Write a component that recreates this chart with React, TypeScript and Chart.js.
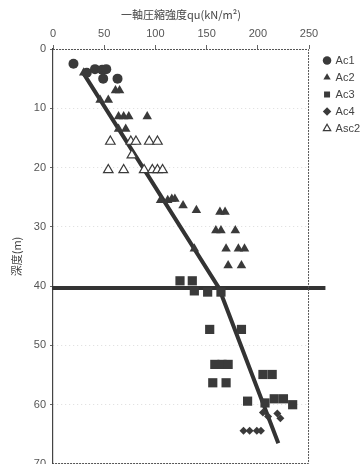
import { useEffect, useRef } from "react";
import { Chart, registerables } from "chart.js";

Chart.register(...registerables);

const seriesNames = ["Ac1", "Ac2", "Ac3", "Ac4", "Asc2"];

const ac1Qu = [20, 33, 41, 48, 52, 49, 63];
const ac1Depth = [2.5, 4, 3.4, 3.5, 3.4, 5, 5];

const ac2Qu = [30, 61, 65, 46, 54, 64, 69, 74, 92, 64, 71, 105, 112, 116, 119, 127, 140, 163, 168, 159, 164, 178, 138, 169, 181, 187, 171, 184];
const ac2Depth = [4, 7, 7, 8.6, 8.6, 11.4, 11.4, 11.4, 11.4, 13.5, 13.5, 25.5, 25.5, 25.3, 25.3, 26.4, 27.2, 27.5, 27.5, 30.6, 30.6, 30.6, 33.7, 33.7, 33.7, 33.7, 36.5, 36.5];

const ac3Qu = [124, 136, 138, 151, 164, 153, 184, 158, 165, 171, 205, 214, 156, 169, 190, 207, 216, 225, 234];
const ac3Depth = [39.1, 39.1, 40.8, 41, 41, 47.3, 47.3, 53.2, 53.2, 53.2, 54.9, 54.9, 56.3, 56.3, 59.4, 59.7, 59, 59, 60];

const ac4Qu = [186, 192, 199, 203, 205, 210, 219, 222];
const ac4Depth = [64.4, 64.4, 64.4, 64.4, 61.3, 62, 61.5, 62.3];

const asc2Qu = [56, 76, 81, 94, 102, 77, 54, 69, 89, 97, 102, 107];
const asc2Depth = [15.6, 15.6, 15.6, 15.6, 15.6, 17.9, 20.4, 20.4, 20.4, 20.4, 20.4, 20.4];

const trendQu = [29, 162, 220];
const trendDepth = [3.9, 40.3, 66.5];

const boundaryQu = [-1, 266];
const boundaryDepth = [40.3, 40.3];

const xTitle = "一軸圧縮強度qu(kN/m²)";
const yTitle = "深度(m)";

const pts = (xs: number[], ys: number[]) => xs.map((x, i) => ({ x, y: ys[i] }));

const INK = "#3a3a3a";

const framePlugin = {
  id: "frame",
  afterDatasetsDraw(chart: any) {
    const { ctx, chartArea } = chart;
    ctx.save();
    ctx.strokeStyle = "#555";
    ctx.lineWidth = 1;
    ctx.setLineDash([2, 1]);
    ctx.beginPath();
    ctx.moveTo(chartArea.left, chartArea.top + 0.5);
    ctx.lineTo(chartArea.right - 0.5, chartArea.top + 0.5);
    ctx.lineTo(chartArea.right - 0.5, chartArea.bottom - 0.5);
    ctx.lineTo(chartArea.left, chartArea.bottom - 0.5);
    ctx.stroke();
    ctx.restore();
  },
};

const legendShift = {
  id: "legendShift",
  afterLayout(chart: any) {
    const l = chart.legend;
    if (l) {
      l.left += 9;
      l.right += 9;
    }
  },
};

export default function App() {
  const ref = useRef<HTMLCanvasElement | null>(null);

  useEffect(() => {
    document.body.style.margin = "0";
    const canvas = ref.current!;
    const font = "'Liberation Sans', Arial, sans-serif";
    const chart = new Chart(canvas, {
      type: "scatter",
      data: {
        datasets: [
          {
            label: seriesNames[0],
            data: pts(ac1Qu, ac1Depth),
            pointStyle: "circle",
            pointRadius: 5,
            backgroundColor: INK,
            borderColor: INK,
            borderWidth: 0,
          },
          {
            label: seriesNames[1],
            data: pts(ac2Qu, ac2Depth),
            pointStyle: "triangle",
            pointRadius: 5.5,
            backgroundColor: INK,
            borderColor: INK,
            borderWidth: 0,
          },
          {
            label: seriesNames[2],
            data: pts(ac3Qu, ac3Depth),
            pointStyle: "rect",
            pointRadius: 6.5,
            backgroundColor: INK,
            borderColor: INK,
            borderWidth: 0,
          },
          {
            label: seriesNames[3],
            data: pts(ac4Qu, ac4Depth),
            pointStyle: "rectRot",
            pointRadius: 4,
            backgroundColor: INK,
            borderColor: INK,
            borderWidth: 0,
          },
          {
            label: seriesNames[4],
            data: pts(asc2Qu, asc2Depth),
            pointStyle: "triangle",
            pointRadius: 5.5,
            backgroundColor: "#ffffff",
            borderColor: INK,
            borderWidth: 1.2,
          },
          {
            type: "line",
            label: "trend",
            data: pts(trendQu, trendDepth),
            borderColor: "#333",
            borderWidth: 4,
            pointRadius: 0,
            showLine: true,
            fill: false,
          } as any,
          {
            type: "line",
            label: "boundary",
            data: pts(boundaryQu, boundaryDepth),
            borderColor: "#333",
            borderWidth: 4,
            pointRadius: 0,
            showLine: true,
            fill: false,
            clip: false,
          } as any,
        ],
      },
      options: {
        animation: false,
        responsive: false,
        maintainAspectRatio: false,
        layout: { padding: { right: 2 }, autoPadding: false },
        plugins: {
          tooltip: { enabled: false },
          legend: {
            position: "right",
            align: "start",
            fullSize: false,
            labels: {
              filter: (item: any) => item.datasetIndex < 5,
              usePointStyle: true,
              boxWidth: 6,
              boxHeight: 6,
              padding: 6,
              color: "#444",
              font: { family: font, size: 11 },
            },
          },
        },
        scales: {
          x: {
            type: "linear",
            position: "top",
            min: 0,
            max: 250,
            afterFit: (s: any) => {
              s.height = 49;
            },
            ticks: {
              stepSize: 50,
              color: "#555",
              padding: 4,
              font: { family: font, size: 11 },
            },
            grid: {
              drawOnChartArea: false,
              tickLength: 4,
              tickColor: "#666",
            },
            border: { display: false },
            title: {
              display: true,
              text: xTitle,
              color: "#444",
              font: { family: "'Noto Sans CJK JP', sans-serif", size: 11 },
              padding: { top: 8, bottom: 0 },
            },
          },
          y: {
            type: "linear",
            reverse: true,
            min: 0,
            max: 70,
            afterFit: (s: any) => {
              s.width = 53;
              s.paddingTop = 0;
              s.paddingBottom = 0;
            },
            ticks: {
              stepSize: 10,
              color: "#555",
              padding: 4,
              font: { family: font, size: 11 },
            },
            grid: {
              color: "rgba(0,0,0,0.14)",
              tickLength: 3,
              tickColor: "#666",
              tickBorderDash: [],
            } as any,
            border: { color: "#444", width: 1.2, dash: [1, 3] as any },
            title: {
              display: true,
              text: yTitle,
              color: "#444",
              font: { family: "'Noto Sans CJK JP', sans-serif", size: 11 },
              padding: { top: 10, bottom: 0 },
            },
          },
        },
      },
      plugins: [framePlugin, legendShift],
    });
    return () => chart.destroy();
  }, []);

  return (
    <div style={{ position: "fixed", left: 0, top: 0, width: 363, height: 464, background: "#fff" }}>
      <canvas ref={ref} width={363} height={464} style={{ width: 363, height: 464 }} />
    </div>
  );
}
